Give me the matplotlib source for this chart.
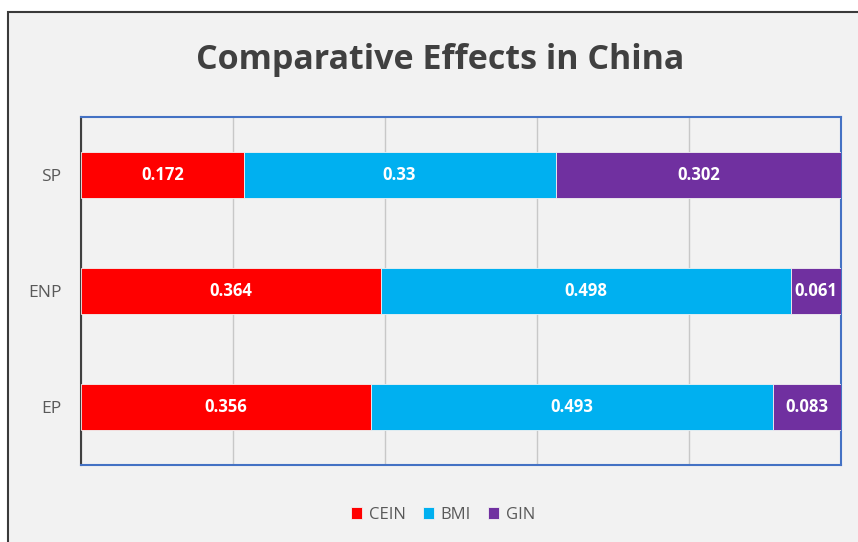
import numpy as np
import matplotlib
matplotlib.use("Agg")
import matplotlib.pyplot as plt
from matplotlib.patches import Rectangle

# data (100% stacked bars)
categories = ["EP", "ENP", "SP"]
cein = [0.356, 0.364, 0.172]
bmi = [0.493, 0.498, 0.33]
gin = [0.083, 0.061, 0.302]
series_names = ["CEIN", "BMI", "GIN"]
colors = ["#ff0000", "#00b0f0", "#7030a0"]

plt.rcParams['font.family'] = ['Open Sans', 'DejaVu Sans']

W, H = 858, 542
fig = plt.figure(figsize=(W / 100, H / 100), dpi=100, facecolor="white")

# chart background with dark frame
fig.patches.append(Rectangle((8 / W, -0.05), 1.1, 1 - 12 / H + 0.05,
                             transform=fig.transFigure, facecolor="#f2f2f2",
                             edgecolor="#3a3a3a", linewidth=1.5, zorder=-5))

ax = fig.add_axes([81 / W, (H - 465) / H, (841 - 81) / W, (465 - 117) / H])
ax.set_facecolor("#f2f2f2")

vals = np.array([cein, bmi, gin])
totals = vals.sum(axis=0)
shares = vals / totals
y = np.arange(len(categories))
left = np.zeros(len(categories))
for i in range(3):
    ax.barh(y, shares[i], left=left, height=0.4, color=colors[i],
            edgecolor="#f2f2f2", linewidth=0.6, label=series_names[i], zorder=3)
    for j in range(len(categories)):
        ax.text(left[j] + shares[i][j] / 2, y[j], f"{vals[i][j]:g}",
                ha="center", va="center", color="white", fontsize=12,
                fontweight="bold", zorder=4)
    left += shares[i]

ax.set_xlim(0, 1)
ax.set_ylim(-0.5, 2.5)
ax.set_xticks(np.linspace(0, 1, 6))
ax.set_xticklabels([])
ax.tick_params(axis="x", length=0)
ax.tick_params(axis="y", length=0, labelsize=12.5, labelcolor="#595959", pad=14)
ax.set_yticks(y)
ax.set_yticklabels(categories)
ax.grid(axis="x", color="#c8c8c8", linewidth=1, zorder=0)

for s in ["top", "right", "bottom"]:
    ax.spines[s].set_color("#4472c4")
    ax.spines[s].set_linewidth(1.5)
ax.spines["left"].set_color("#404040")
ax.spines["left"].set_linewidth(1.5)

fig.text(440 / W, 1 - 60 / H, "Comparative Effects in China", ha="center",
         va="center", fontsize=24.5, fontweight="bold", color="#404040")

handles, labels = ax.get_legend_handles_labels()
fig.legend(handles, labels, loc="center", bbox_to_anchor=(443 / W, 1 - 515 / H),
           ncol=3, frameon=False, fontsize=12, labelcolor="#595959",
           handlelength=0.7, handleheight=0.7, handletextpad=0.4, columnspacing=1.0)

fig.savefig("out.png", dpi=100, facecolor="white")
